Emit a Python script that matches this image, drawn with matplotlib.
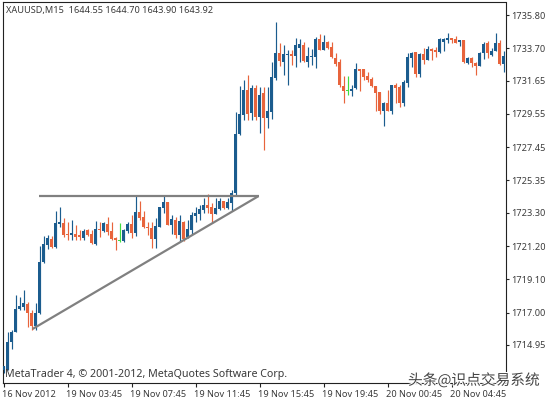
import matplotlib
matplotlib.use('Agg')
import matplotlib.pyplot as plt
import matplotlib.patheffects as pe
from matplotlib.transforms import ScaledTranslation

# M15 candles
opens = [1713.37,1713.37,1715.14,1715.77,1717.22,1717.35,1717.54,1716.97,1716.15,1716.97,
  1720.19,1721.27,1721.64,1721.14,1722.59,1722.66,1721.96,1721.90,1721.96,1721.90,
  1721.71,1722.21,1721.96,1721.33,1722.28,1722.15,1722.59,1722.15,1721.71,1721.55,
  1721.52,1722.15,1722.59,1722.02,1723.35,1723.04,1722.40,1722.34,1721.64,1722.40,
  1723.60,1723.98,1722.53,1722.85,1721.90,1722.72,1721.77,1722.21,1723.10,1723.22,
  1723.48,1723.79,1723.67,1723.22,1723.54,1724.05,1723.60,1723.92,1724.55,1728.28,
  1729.48,1731.06,1729.61,1731.19,1729.36,1730.87,1729.29,1729.67,1731.82,1733.40,
  1732.83,1733.29,1733.34,1733.21,1733.72,1733.91,1732.83,1733.15,1733.15,1734.29,
  1733.59,1734.10,1733.78,1733.08,1732.83,1731.31,1731.03,1731.00,1731.19,1732.39,
  1732.39,1731.95,1731.76,1731.31,1730.94,1729.73,1730.24,1729.73,1731.38,1731.25,
  1730.24,1731.50,1733.08,1733.46,1732.07,1733.34,1732.96,1733.65,1733.59,1733.46,
  1734.10,1734.22,1734.35,1734.29,1734.10,1734.22,1732.77,1733.08,1732.77,1732.58,
  1733.40,1734.03,1733.27,1733.53,1734.03,1732.71]
highs = [1713.62,1715.77,1715.89,1718.11,1717.98,1718.42,1717.67,1717.16,1717.60,1721.20,
  1721.83,1721.90,1721.83,1723.42,1723.67,1722.97,1722.72,1722.85,1722.53,1722.21,
  1722.28,1722.28,1722.21,1722.78,1722.72,1722.72,1723.04,1722.72,1721.77,1722.66,
  1722.28,1722.72,1723.16,1724.36,1724.05,1723.42,1722.72,1722.72,1722.97,1723.67,
  1724.36,1723.98,1723.16,1723.04,1723.16,1722.78,1722.85,1723.35,1723.67,1723.79,
  1724.24,1724.49,1723.92,1724.24,1724.24,1724.05,1724.24,1724.74,1729.67,1731.31,
  1731.69,1732.01,1731.38,1731.38,1731.25,1731.25,1731.25,1732.83,1735.36,1734.03,
  1733.91,1733.59,1733.59,1734.35,1734.29,1734.10,1733.78,1733.65,1734.41,1734.60,
  1734.54,1734.16,1734.10,1733.40,1733.02,1731.95,1731.95,1731.38,1732.77,1732.39,
  1732.39,1732.20,1731.88,1731.31,1730.94,1730.30,1731.06,1731.38,1731.50,1731.38,
  1731.69,1733.40,1733.46,1733.46,1733.40,1733.72,1733.84,1733.72,1733.78,1734.35,
  1734.35,1734.66,1734.35,1734.47,1734.22,1734.22,1733.15,1733.15,1732.83,1733.46,
  1734.10,1734.16,1733.72,1734.66,1734.22,1733.53]
lows = [1713.18,1713.37,1714.69,1715.77,1717.16,1717.16,1716.08,1715.89,1715.89,1716.91,
  1720.13,1721.01,1721.08,1721.08,1722.40,1721.77,1721.58,1721.58,1721.58,1721.58,
  1721.58,1721.83,1721.33,1721.27,1721.77,1722.09,1721.90,1721.58,1720.95,1721.45,
  1721.45,1722.02,1721.71,1721.83,1722.85,1722.34,1721.90,1721.08,1721.08,1722.40,
  1723.29,1722.53,1721.96,1721.71,1721.52,1721.52,1721.71,1721.96,1722.72,1722.85,
  1723.29,1723.29,1722.66,1723.22,1723.48,1723.54,1723.54,1723.42,1724.36,1728.22,
  1729.17,1729.17,1729.17,1729.17,1728.34,1727.27,1728.66,1729.23,1731.69,1732.58,
  1732.01,1731.38,1732.64,1732.52,1732.83,1732.83,1732.52,1732.64,1732.45,1733.59,
  1733.59,1733.65,1733.08,1732.58,1731.25,1730.24,1730.75,1730.68,1731.13,1731.00,
  1731.69,1731.57,1731.25,1729.73,1729.54,1728.79,1729.73,1729.54,1730.24,1729.99,
  1730.05,1731.25,1732.52,1731.88,1731.88,1732.71,1732.96,1732.96,1733.15,1733.40,
  1733.53,1734.03,1734.03,1734.03,1733.84,1732.77,1732.71,1732.52,1732.01,1732.58,
  1733.02,1733.08,1733.21,1733.53,1732.64,1732.20]
closes = [1713.62,1715.14,1715.77,1717.22,1717.41,1717.60,1716.97,1716.15,1716.97,1720.19,
  1721.33,1721.71,1721.14,1722.66,1722.69,1721.90,1721.90,1722.02,1721.77,1721.77,
  1722.15,1721.90,1721.39,1722.28,1722.21,1722.66,1722.09,1721.64,1721.58,1721.55,
  1722.21,1722.59,1722.02,1723.35,1722.97,1722.40,1722.34,1721.64,1722.47,1723.67,
  1723.98,1722.53,1722.91,1721.90,1722.78,1721.64,1722.28,1723.16,1723.29,1723.54,
  1723.79,1723.60,1723.22,1723.60,1724.05,1723.60,1723.98,1724.55,1728.28,1729.54,
  1731.06,1729.54,1731.19,1729.36,1730.75,1729.29,1729.73,1731.88,1733.40,1732.90,
  1733.34,1733.36,1733.21,1733.91,1733.97,1732.90,1733.21,1733.21,1734.29,1733.59,
  1734.10,1733.72,1733.15,1732.71,1731.38,1731.00,1731.03,1731.13,1732.39,1732.26,
  1731.88,1731.69,1731.31,1730.87,1729.73,1730.24,1729.73,1731.38,1731.19,1730.24,
  1731.57,1733.15,1733.40,1732.07,1733.34,1732.96,1733.65,1733.53,1733.46,1734.29,
  1734.29,1734.35,1734.22,1734.03,1734.22,1732.83,1733.08,1732.77,1732.58,1733.40,
  1733.97,1733.40,1733.53,1734.03,1732.71,1733.21]

price_ticks = [1735.80,1733.70,1731.65,1729.55,1727.45,1725.35,1723.30,1721.20,1719.10,1717.00,1714.95]
time_labels = ['16 Nov 2012','19 Nov 03:45','19 Nov 07:45','19 Nov 11:45','19 Nov 15:45',
  '19 Nov 19:45','20 Nov 00:45','20 Nov 04:45']
time_ticks = [0,16,32,48,64,80,96,112]

# triangle drawn on the chart: (bar, price)
resistance_x = [8.7,63.7]
resistance_y = [1724.36,1724.36]
support_x = [7.2,63.7]
support_y = [1715.96,1724.36]

W, H = 548, 400
UP = '#1b5c8e'
DOWN = '#e8643c'
FLAT = '#3fdc3f'
TXT = '#3a3a3a'
FONT = 'Noto Sans'

fig = plt.figure(figsize=(W/100,H/100),dpi=100)
# pixel box of the chart: 2.5..505.5 across, 2..383 down
ax = fig.add_axes([2.5/W,1-383/H,503/W,381/H])
ax.set_xlim((2.5-3.8)/4,(505.5-3.8)/4)
ax.set_ylim(1736.75-0.0632*383,1736.75-0.0632*2)

for i in range(len(opens)):
  if closes[i] > opens[i]:
    c = UP
  elif closes[i] < opens[i]:
    c = DOWN
  else:
    c = FLAT
  ax.vlines(i,lows[i],highs[i],color=c,lw=0.85,zorder=2)
  body = abs(closes[i]-opens[i])
  ax.bar(i,max(body,0.04),bottom=min(opens[i],closes[i]),width=0.8,color=c,lw=0,zorder=3)

ax.plot(resistance_x,resistance_y,color='#808080',lw=1.6,zorder=4,solid_capstyle='butt')
ax.plot(support_x,support_y,color='#808080',lw=1.6,zorder=4,solid_capstyle='butt')

ax.set_xticks(time_ticks)
ax.set_xticklabels(time_labels,ha='left',fontsize=6.6,color=TXT,family=FONT)
ax.yaxis.tick_right()
ax.set_yticks(price_ticks)
ax.set_yticklabels(['%.2f'%p for p in price_ticks],fontsize=6.6,color=TXT,family=FONT)
ax.tick_params(axis='x',length=3,width=0.8,color='#222222',pad=2)
ax.tick_params(axis='y',length=2.2,width=0.8,color='#222222',pad=2)
# labels in the terminal start just left of their tick
shift = ScaledTranslation(-1.5/100,0,fig.dpi_scale_trans)
for t in ax.get_xticklabels():
  t.set_transform(t.get_transform()+shift)
for s in ax.spines.values():
  s.set_linewidth(0.8)
  s.set_color('#222222')

fig.text(6/W,1-10/H,'XAUUSD,M15  1644.55 1644.70 1643.90 1643.92',fontsize=6.6,color=TXT,family=FONT,va='center')
fig.text(5/W,1-375/H,'MetaTrader 4, © 2001-2012, MetaQuotes Software Corp.',fontsize=7.7,color=TXT,family=FONT,va='center')
fig.text(408/W,1-380.5/H,'头条@识点交易系统',fontsize=10.6,color='#444444',va='center',
  family=['Noto Sans CJK SC','DejaVu Sans'],
  path_effects=[pe.withStroke(linewidth=1.5,foreground='white')])

fig.savefig('out.png',dpi=100)
